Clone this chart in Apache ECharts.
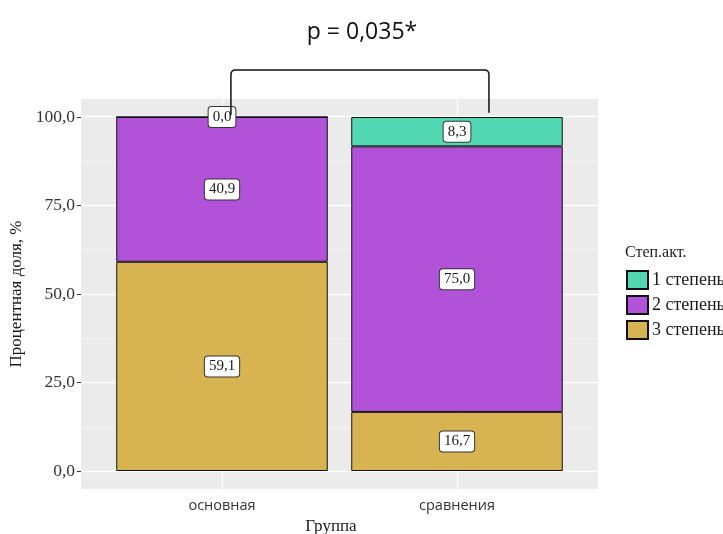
<!DOCTYPE html>
<html>
<head>
<meta charset="utf-8">
<script src="https://cdn.jsdelivr.net/npm/echarts@6/dist/echarts.min.js"></script>
<style>
  html, body { margin: 0; padding: 0; background: #fff; }
  #chart { width: 723px; height: 534px; }
</style>
</head>
<body>
<div id="chart"></div>
<script>
// Groups and the share of each activity degree (percent)
const groups = ['основная', 'сравнения'];
const degree1 = [0.0, 8.3];
const degree2 = [40.9, 75.0];
const degree3 = [59.1, 16.7];
const seriesNames = ['1 степень', '2 степень', '3 степень'];
const yTicks = [0, 25, 50, 75, 100];
const yMinorTicks = [12.5, 37.5, 62.5, 87.5];
const pValueText = 'p = 0,035*';

const SERIF = '"Liberation Serif", "DejaVu Serif", serif';
const SANS = '"Open Sans", "Noto Sans", sans-serif';
const fmt = v => Number(v).toFixed(1).replace('.', ',');

const labelStyle = {
  show: true,
  position: 'inside',
  formatter: p => fmt(p.value),
  fontFamily: SERIF,
  fontSize: 15,
  color: '#1a1a1a',
  backgroundColor: '#ffffff',
  borderColor: '#333333',
  borderWidth: 1,
  borderRadius: 3,
  padding: [3, 4, 2, 4]
};

function barSeries(name, data, color) {
  return {
    name: name,
    type: 'bar',
    stack: 'total',
    xAxisIndex: 1,
    yAxisIndex: 1,
    barWidth: '90%',
    data: data,
    itemStyle: { color: color, borderColor: '#111', borderWidth: 1 },
    label: labelStyle,
    z: 10
  };
}

const chart = echarts.init(document.getElementById('chart'));

const option = {
  animation: false,
  title: [
    {
      text: pValueText,
      left: 357, top: 16, textAlign: 'center',
      textStyle: { fontFamily: SANS, fontSize: 23, fontWeight: 'normal', color: '#111' }
    },
    {
      text: 'Степ.акт.',
      left: 625, top: 245, padding: 0,
      textStyle: { fontFamily: SERIF, fontSize: 16, fontWeight: 'normal', color: '#1a1a1a' }
    }
  ],
  legend: {
    data: seriesNames,
    orient: 'vertical',
    left: 626, top: 270,
    padding: 0,
    itemWidth: 21, itemHeight: 18, itemGap: 5,
    icon: 'rect',
    textStyle: { fontFamily: SERIF, fontSize: 18, color: '#1a1a1a', padding: [0, 0, 0, -1] },
    selectedMode: false
  },
  grid: [
    // panel background
    { left: 81, width: 517, top: 99, height: 390, show: true, backgroundColor: '#ebebeb', borderWidth: 0, outerBoundsMode: 'none', containLabel: false },
    // bar area
    { left: 104.5, width: 470, top: 117, height: 354, outerBoundsMode: 'none', containLabel: false }
  ],
  xAxis: [
    { gridIndex: 0, type: 'value', min: 0.4, max: 2.6, show: false },
    {
      gridIndex: 1, type: 'category', data: groups, offset: 18,
      axisLine: { show: false },
      axisTick: { show: true, alignWithLabel: true, length: 4, lineStyle: { color: '#333' } },
      axisLabel: { fontFamily: SANS, fontSize: 14.5, color: '#333', margin: 9 },
      name: 'Группа', nameLocation: 'middle', nameGap: 27,
      nameTextStyle: { fontFamily: SERIF, fontSize: 17, color: '#1a1a1a', padding: [0, 17, 0, 0] },
      splitLine: { show: false }
    }
  ],
  yAxis: [
    { gridIndex: 0, type: 'value', min: -5, max: 105, show: false },
    {
      gridIndex: 1, type: 'value', min: 0, max: 100, interval: 25, offset: 23.5,
      axisLine: { show: false },
      axisTick: { show: true, length: 4, lineStyle: { color: '#333' } },
      axisLabel: { fontFamily: SERIF, fontSize: 17.5, color: '#333', margin: 6, formatter: v => fmt(v) },
      splitLine: { show: false },
      name: 'Процентная доля, %', nameLocation: 'middle', nameGap: 50,
      nameTextStyle: { fontFamily: SERIF, fontSize: 17, color: '#1a1a1a' }
    }
  ],
  series: [
    {
      name: 'panel-grid',
      type: 'line',
      xAxisIndex: 0, yAxisIndex: 0,
      data: [],
      silent: true,
      z: 1,
      markLine: {
        silent: true,
        symbol: 'none',
        label: { show: false },
        animation: false,
        z: 1,
        data: [
          ...yMinorTicks.map(v => ({ yAxis: v, lineStyle: { color: '#fafafa', width: 0.6, type: 'solid' } })),
          ...yTicks.map(v => ({ yAxis: v, lineStyle: { color: '#ffffff', width: 1.3, type: 'solid' } })),
          ...groups.map((g, i) => ({ xAxis: i + 1, lineStyle: { color: '#ffffff', width: 1.3, type: 'solid' } }))
        ]
      }
    },
    barSeries(seriesNames[2], degree3, '#d8b352'),
    barSeries(seriesNames[1], degree2, '#b152d8'),
    barSeries(seriesNames[0], degree1, '#52d8b3')
  ]
};

chart.setOption(option);

// Significance bracket between the two groups (panel coordinates)
const bracket = { x1: 1.038, x2: 2.136, yLeft: 100.5, yRight: 101.1, yTop: 113.2 };
const pL = chart.convertToPixel({ gridIndex: 0 }, [bracket.x1, bracket.yLeft]);
const pR = chart.convertToPixel({ gridIndex: 0 }, [bracket.x2, bracket.yRight]);
const topY = chart.convertToPixel({ gridIndex: 0 }, [bracket.x1, bracket.yTop])[1];
const r = 5;
// rounded corner sampled along a quadratic curve
function corner(p0, c, p1) {
  const pts = [];
  for (let i = 0; i <= 6; i++) {
    const t = i / 6;
    pts.push([
      (1 - t) * (1 - t) * p0[0] + 2 * (1 - t) * t * c[0] + t * t * p1[0],
      (1 - t) * (1 - t) * p0[1] + 2 * (1 - t) * t * c[1] + t * t * p1[1]
    ]);
  }
  return pts;
}
const points = [
  [pL[0], pL[1]],
  ...corner([pL[0], topY + r], [pL[0], topY], [pL[0] + r, topY]),
  ...corner([pR[0] - r, topY], [pR[0], topY], [pR[0], topY + r]),
  [pR[0], pR[1]]
];
chart.setOption({
  graphic: [{
    type: 'polyline',
    shape: { points: points },
    style: { fill: null, stroke: '#111', lineWidth: 1.5 },
    z: 20
  }]
});
</script>
</body>
</html>
